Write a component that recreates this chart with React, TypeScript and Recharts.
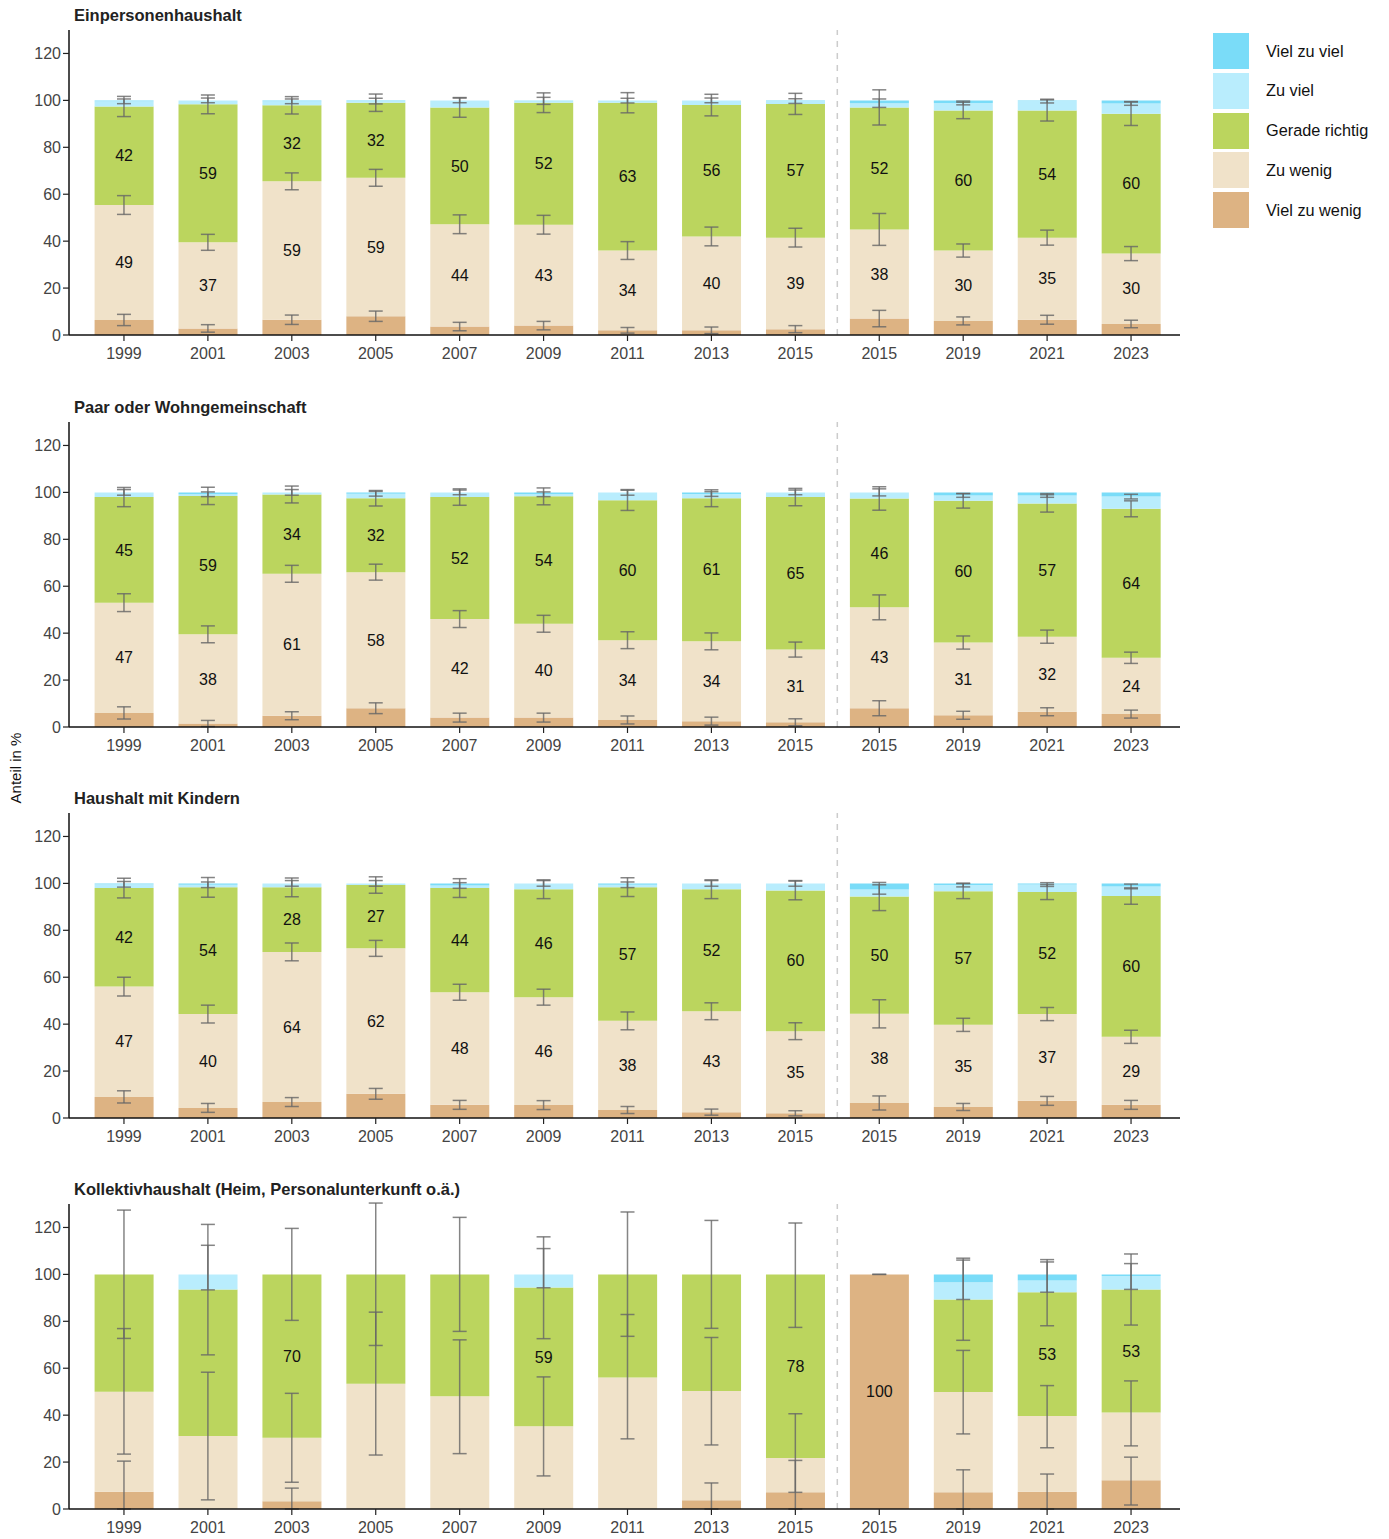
import { Bar, ComposedChart, ErrorBar, LabelList, Line, ReferenceLine, XAxis, YAxis } from "recharts"

type Err = number | [number, number] | null

const years = ["1999", "2001", "2003", "2005", "2007", "2009", "2011", "2013", "2015", "2015", "2019", "2021", "2023"]
const yTicks = [0, 20, 40, 60, 80, 100, 120]

const series = [
  { key: "vzw", name: "Viel zu wenig", color: "#ddb383" },
  { key: "zw", name: "Zu wenig", color: "#f0e2c9" },
  { key: "gr", name: "Gerade richtig", color: "#bbd55e" },
  { key: "zv", name: "Zu viel", color: "#b9edfd" },
  { key: "vzv", name: "Viel zu viel", color: "#7adcf8" },
]

// Einpersonenhaushalt
const onePVzw = [6.4, 2.8, 6.5, 8.0, 3.6, 4.0, 2.0, 2.0, 2.5, 7.0, 6.0, 6.5, 4.7]
const onePZw = [49.0, 36.7, 59.0, 59.0, 43.6, 43.0, 34.0, 40.0, 39.0, 38.0, 30.0, 35.0, 30.0]
const onePGr = [42.0, 58.8, 32.4, 32.0, 49.8, 52.0, 63.0, 56.0, 57.0, 52.0, 59.7, 54.2, 59.6]
const onePZv = [2.2, 1.7, 1.7, 0.7, 3.0, 0.8, 0.9, 2.0, 1.2, 1.8, 3.2, 4.0, 4.4]
const onePVzv = [0.4, 0, 0.4, 0.3, 0, 0.2, 0.1, 0, 0.3, 1.2, 1.1, 0.3, 1.3]
const onePErrVzw: Err[] = [2.4, 1.6, 2.0, 2.2, 1.8, 1.8, 1.2, 1.4, 1.5, 3.5, 1.7, 1.9, 1.6]
const onePErrZw: Err[] = [4.0, 3.4, 3.6, 3.6, 4.0, 4.0, 3.8, 4.0, 4.0, 6.8, 2.8, 3.2, 3.0]
const onePErrGr: Err[] = [4.3, 4.0, 3.7, 3.7, 4.2, 4.2, 4.3, 4.6, 4.5, 7.5, 3.5, 4.5, 5.0]
const onePErrZv: Err[] = [1.0, 1.0, 1.0, 1.2, 1.0, 1.5, 1.0, 1.0, 1.0, 1.8, 0.8, 0.8, 0.8]

// Paar oder Wohngemeinschaft
const pairVzw = [6.0, 1.5, 4.8, 8.0, 4.0, 4.0, 3.0, 2.5, 2.0, 8.0, 5.0, 6.5, 5.5]
const pairZw = [47.0, 38.0, 60.5, 58.0, 42.0, 40.0, 34.0, 34.0, 31.0, 43.0, 31.0, 32.0, 24.0]
const pairGr = [45.0, 59.0, 33.8, 31.5, 52.0, 54.3, 59.6, 61.0, 65.0, 46.4, 60.4, 56.8, 63.5]
const pairZv = [2.0, 0.7, 0.9, 1.9, 2.0, 0.9, 3.4, 1.8, 2.0, 2.6, 2.3, 3.4, 5.2]
const pairVzv = [0, 0.8, 0, 0.6, 0, 0.8, 0, 0.7, 0, 0, 1.3, 1.3, 1.8]
const pairErrVzw: Err[] = [2.6, 1.3, 1.7, 2.3, 1.9, 1.9, 1.7, 1.7, 1.5, 3.2, 1.7, 1.7, 1.7]
const pairErrZw: Err[] = [3.8, 3.6, 3.6, 3.4, 3.6, 3.6, 3.6, 3.6, 3.2, 5.3, 2.8, 2.8, 2.4]
const pairErrGr: Err[] = [4.1, 3.7, 3.6, 3.3, 3.5, 3.6, 4.3, 3.6, 3.7, 5.0, 3.1, 3.7, 3.4]
const pairErrZv: Err[] = [1.2, 1.0, 1.2, 1.0, 1.0, 1.0, 1.2, 1.0, 1.0, 1.5, 0.8, 0.8, 1.0]

// Haushalt mit Kindern
const kidsVzw = [9.0, 4.3, 6.8, 10.3, 5.6, 5.5, 3.4, 2.5, 2.0, 6.4, 4.7, 7.3, 5.6]
const kidsZw = [47.0, 40.0, 64.0, 62.0, 48.0, 46.0, 38.0, 43.0, 35.0, 38.0, 35.0, 37.0, 29.0]
const kidsGr = [42.0, 54.0, 27.5, 27.0, 44.4, 46.0, 57.0, 52.0, 60.0, 50.0, 57.0, 52.0, 60.0]
const kidsZv = [1.6, 1.1, 1.7, 0.7, 1.1, 2.5, 1.0, 2.5, 3.0, 3.0, 2.6, 3.2, 4.1]
const kidsVzv = [0.4, 0.6, 0, 0, 0.9, 0, 0.6, 0, 0, 2.6, 0.7, 0.5, 1.3]
const kidsErrVzw: Err[] = [2.6, 1.9, 1.9, 2.3, 1.9, 1.9, 1.5, 1.3, 1.1, 3.0, 1.5, 1.9, 1.9]
const kidsErrZw: Err[] = [4.0, 3.8, 3.8, 3.4, 3.4, 3.4, 3.8, 3.6, 3.6, 6.0, 2.8, 2.8, 2.8]
const kidsErrGr: Err[] = [4.2, 4.2, 4.0, 3.5, 4.0, 4.0, 4.0, 4.0, 4.0, 6.0, 3.2, 3.2, 3.5]
const kidsErrZv: Err[] = [1.2, 1.2, 1.2, 1.2, 1.2, 1.2, 1.2, 1.2, 1.2, 2.0, 0.8, 0.8, 1.0]

// Kollektivhaushalt
const collVzw = [7.3, 0, 3.3, 0, 0, 0, 0, 3.7, 7.1, 100, 7.1, 7.4, 12.3]
const collZw = [42.7, 31.1, 27.1, 53.4, 48.1, 35.3, 56.1, 46.6, 14.6, 0, 42.8, 32.2, 28.8]
const collGr = [50.0, 62.5, 69.6, 46.6, 51.9, 59.1, 43.9, 49.7, 78.3, 0, 39.4, 52.8, 52.5]
const collZv = [0, 6.4, 0, 0, 0, 5.6, 0, 0, 0, 0, 7.3, 5.0, 5.7]
const collVzv = [0, 0, 0, 0, 0, 0, 0, 0, 0, 0, 3.4, 2.6, 0.7]
const collErrVzw: Err[] = [[7.3, 13.1], null, [3.3, 5.6], null, null, null, null, [3.7, 7.4], [7.1, 13.6], [0, 0], [7.1, 9.6], [7.4, 7.5], [10.6, 9.8]]
const collErrZw: Err[] = [[26.6, 26.9], [27.2, 27.2], [19.0, 18.9], [30.4, 30.5], [24.5, 24.0], [21.2, 21.0], [26.2, 26.8], [23.0, 22.8], [14.6, 18.9], null, [17.9, 17.7], [13.5, 13.0], [14.2, 13.5]]
const collErrGr: Err[] = [[27.3, 27.4], [27.9, 27.7], [19.6, 19.6], [30.3, 30.4], [24.3, 24.3], [21.8, 21.6], [26.4, 26.6], [23.0, 23.0], [22.6, 21.9], null, [17.4, 17.6], [14.3, 13.9], [15.2, 15.1]]
const collErrZv: Err[] = [null, [6.6, 12.4], null, null, null, [5.7, 11.0], null, null, null, null, [7.3, 9.5], [5.0, 7.9], [5.7, 5.3]]
const collShowGr = [false, false, true, false, false, true, false, false, true, false, false, true, true]
const collShowVzw = [false, false, false, false, false, false, false, false, false, true, false, false, false]

const allOn = years.map(() => true)
const allOff = years.map(() => false)

interface Panel {
  title: string
  vzw: number[]; zw: number[]; gr: number[]; zv: number[]; vzv: number[]
  errs: Err[][]
  show: { vzw: boolean[]; zw: boolean[]; gr: boolean[] }
}

const panels: Panel[] = [
  { title: "Einpersonenhaushalt", vzw: onePVzw, zw: onePZw, gr: onePGr, zv: onePZv, vzv: onePVzv,
    errs: [onePErrVzw, onePErrZw, onePErrGr, onePErrZv], show: { vzw: allOff, zw: allOn, gr: allOn } },
  { title: "Paar oder Wohngemeinschaft", vzw: pairVzw, zw: pairZw, gr: pairGr, zv: pairZv, vzv: pairVzv,
    errs: [pairErrVzw, pairErrZw, pairErrGr, pairErrZv], show: { vzw: allOff, zw: allOn, gr: allOn } },
  { title: "Haushalt mit Kindern", vzw: kidsVzw, zw: kidsZw, gr: kidsGr, zv: kidsZv, vzv: kidsVzv,
    errs: [kidsErrVzw, kidsErrZw, kidsErrGr, kidsErrZv], show: { vzw: allOff, zw: allOn, gr: allOn } },
  { title: "Kollektivhaushalt (Heim, Personalunterkunft o.ä.)", vzw: collVzw, zw: collZw, gr: collGr, zv: collZv, vzv: collVzv,
    errs: [collErrVzw, collErrZw, collErrGr, collErrZv], show: { vzw: collShowVzw, zw: allOff, gr: collShowGr } },
]

const panelTops = [0, 392, 783, 1174]
const font = "'Liberation Sans', Arial, sans-serif"

// lower whisker never below 0
const clipErr = (e: Err, v: number): Err => {
  if (e == null) return null
  if (Array.isArray(e)) return [Math.min(e[0], v), e[1]]
  return [Math.min(e, v), e]
}

const buildRows = (p: Panel) =>
  years.map((year, i) => {
    const c1 = p.vzw[i]
    const c2 = c1 + p.zw[i]
    const c3 = c2 + p.gr[i]
    const c4 = c3 + p.zv[i]
    return {
      key: String(i), year,
      vzw: p.vzw[i], zw: p.zw[i], gr: p.gr[i], zv: p.zv[i], vzv: p.vzv[i],
      vzwLbl: p.show.vzw[i] ? Math.round(p.vzw[i]) : null,
      zwLbl: p.show.zw[i] ? Math.round(p.zw[i]) : null,
      grLbl: p.show.gr[i] ? Math.round(p.gr[i]) : null,
      c1, c2, c3, c4,
      e1: clipErr(p.errs[0][i], c1),
      e2: clipErr(p.errs[1][i], c2),
      e3: clipErr(p.errs[2][i], c3),
      e4: clipErr(p.errs[3][i], c4),
    }
  })

const PanelChart = ({ panel }: { panel: Panel }) => {
  const rows = buildRows(panel)
  return (
    <ComposedChart width={1190} height={370} data={rows} barCategoryGap="15%"
      margin={{ top: 30, right: 10, left: 0, bottom: 5 }}>
      <XAxis dataKey="key" height={30} interval={0}
        tickFormatter={(v) => years[Number(v)]}
        padding={{ left: 13, right: 7 }}
        tick={{ fill: "#444", fontSize: 16, fontFamily: font }}
        tickSize={6} tickMargin={7}
        axisLine={{ stroke: "#111", strokeWidth: 1.5 }}
        tickLine={{ stroke: "#222", strokeWidth: 1.2 }} />
      <YAxis width={69} domain={[0, 130]} ticks={yTicks} allowDataOverflow
        tick={{ fill: "#444", fontSize: 16, fontFamily: font }}
        tickSize={6}
        axisLine={{ stroke: "#111", strokeWidth: 1.5 }}
        tickLine={{ stroke: "#222", strokeWidth: 1.2 }} />
      {series.map((s) => (
        <Bar key={s.key} dataKey={s.key} stackId="a" fill={s.color} isAnimationActive={false}>
          {(s.key === "vzw" || s.key === "zw" || s.key === "gr") && (
            <LabelList dataKey={`${s.key}Lbl`} position="center" fill="#111" fontSize={16}
              fontFamily={font} formatter={(v: any) => (v == null ? "" : v)} />
          )}
        </Bar>
      ))}
      {/* separator after the 9th category */}
      <ReferenceLine x="8" position="end" stroke="#cccccc" strokeWidth={1.5} strokeDasharray="6 6" />
      {["c1", "c2", "c3", "c4"].map((k, j) => (
        <Line key={k} dataKey={k} stroke="none" dot={false} activeDot={false}
          isAnimationActive={false} legendType="none">
          <ErrorBar dataKey={`e${j + 1}`} direction="y" width={7}
            stroke="#666" strokeWidth={1.5} strokeOpacity={0.8} />
        </Line>
      ))}
    </ComposedChart>
  )
}

export default function App() {
  return (
    <div style={{ position: "absolute", left: 0, top: 0, width: 1389, height: 1539, background: "#fff", fontFamily: font }}>
      {panels.map((p, i) => (
        <div key={p.title} style={{ position: "absolute", left: 0, top: panelTops[i] }}>
          <div style={{ position: "absolute", left: 74, top: 6, fontSize: 16.5, fontWeight: "bold", color: "#222", whiteSpace: "nowrap" }}>
            {p.title}
          </div>
          <PanelChart panel={p} />
        </div>
      ))}
      <div style={{ position: "absolute", left: 15, top: 768, transform: "translate(-50%, -50%) rotate(-90deg)", fontSize: 15, color: "#111", whiteSpace: "nowrap" }}>
        Anteil in %
      </div>
      <div style={{ position: "absolute", left: 1213, top: 33 }}>
        {[...series].reverse().map((s) => (
          <div key={s.key} style={{ display: "flex", alignItems: "center", height: 36, marginBottom: 3.8 }}>
            <div style={{ width: 36, height: 36, background: s.color }} />
            <span style={{ marginLeft: 17, fontSize: 16.3, color: "#111" }}>{s.name}</span>
          </div>
        ))}
      </div>
    </div>
  )
}
